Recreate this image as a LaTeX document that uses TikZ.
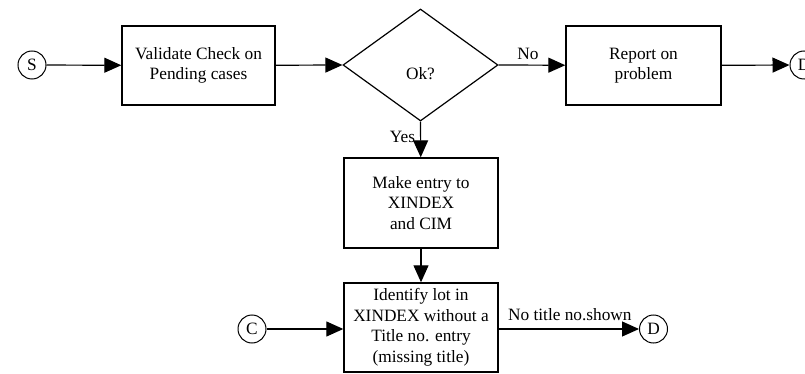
\documentclass[tikz,border=0pt]{standalone}
\usepackage{fontspec}
\setmainfont{Liberation Serif}
\usetikzlibrary{shapes.geometric,arrows.meta}
\begin{document}
\begin{tikzpicture}[x=1pt,y=-1pt,
  every node/.style={font=\fontsize{17.3}{20.5}\selectfont, inner sep=0pt},
  procbox/.style={draw, line width=1.4pt, align=center},
  connector/.style={draw, circle, line width=1pt, minimum size=28pt},
  decision/.style={draw, diamond, line width=1.2pt, minimum width=155pt, minimum height=112pt},
  flow/.style={line width=1.2pt, -{Triangle[length=17pt,width=15pt]}},
  lbl/.style={}
]
\useasboundingbox (0,0) rectangle (805,374);

% start connector and first check
\node[connector] (S) at (32,65) {S};
\node[procbox, minimum width=153pt, minimum height=79pt] (validate) at (198.5,65.5)
  {Validate Check on\\Pending cases};
\node[decision, label={[yshift=-9pt]center:Ok?}] (ok) at (420.5,65) {};
\node[procbox, minimum width=155pt, minimum height=79pt] (report) at (643.5,65.5)
  {Report on\\problem};
\node[connector] (D1) at (804,65) {D};

% yes branch
\node[procbox, minimum width=154pt, minimum height=90pt] (entry) at (421,203)
  {Make entry to\\XINDEX\\and CIM};
\node[procbox, minimum width=154pt, minimum height=89pt] (identify) at (421,327.5)
  {Identify lot in\\XINDEX without a\\Title no. entry\\(missing title)};
\node[connector] (C) at (252,329) {C};
\node[connector] (D2) at (653.5,329) {D};

% connectors
\draw[flow] (S) -- (validate);
\draw[flow] (validate) -- (ok.west);
\draw[flow] (ok.east) -- node[lbl, above=5pt, xshift=-4pt] {No} (report);
\draw[flow] (report) -- (D1);
\draw[flow] (ok.south) -- node[lbl, left=5pt, pos=0.42] {Yes} (entry);
\draw[flow] (entry) -- (identify);
\draw[flow] (C) -- (C -| identify.west);
\draw[flow] (identify.east |- D2) -- node[lbl, above=8pt, xshift=1pt] {No title no.shown} (D2);
\end{tikzpicture}
\end{document}
